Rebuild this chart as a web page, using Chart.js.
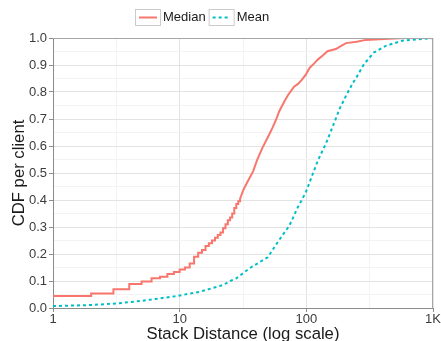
<!DOCTYPE html>
<html lang="en">
<head>
<meta charset="UTF-8">
<title>CDF per client</title>
<script src="https://cdn.jsdelivr.net/npm/chart.js@4.4.1/dist/chart.umd.min.js"></script>
<style>
  html, body { margin: 0; padding: 0; background: #fff; }
  #chart { display: block; }
</style>
</head>
<body>
<canvas id="chart" width="441" height="341"></canvas>
<script>
// values, x = stack distance, y = cumulative fraction
// the low end of the median is a visible staircase, so each riser is listed twice
const medianX = [1, 2, 2, 3, 3, 4, 4, 5, 5, 6, 6, 7, 7, 8, 8, 9, 9, 10, 10,
  11, 11, 12, 12, 13, 13, 14, 14, 15, 15, 16, 16, 17, 17, 18, 18, 19, 19, 20, 20,
  21, 21, 22, 22, 23, 23, 24, 24, 25, 25, 26, 26, 27, 27, 28, 28, 29, 29, 30, 30,
  32, 35, 38, 41, 45, 50, 54, 58, 61, 67, 72, 76, 80, 86, 92, 99, 106, 115, 123,
  134, 147, 171, 190, 206, 250, 295, 447, 610, 1000];
const medianY = [0.044, 0.044, 0.054, 0.054, 0.069, 0.069, 0.089, 0.089, 0.098,
  0.098, 0.110, 0.110, 0.116, 0.116, 0.126, 0.126, 0.133, 0.133, 0.143,
  0.143, 0.150, 0.150, 0.165, 0.165, 0.190, 0.190, 0.205, 0.205, 0.215,
  0.215, 0.230, 0.230, 0.240, 0.240, 0.250, 0.250, 0.260, 0.260, 0.270,
  0.270, 0.280, 0.280, 0.295, 0.295, 0.310, 0.310, 0.325, 0.325, 0.335,
  0.335, 0.350, 0.350, 0.370, 0.370, 0.385, 0.385, 0.395, 0.395, 0.405,
  0.440, 0.475, 0.506, 0.550, 0.593, 0.635, 0.667, 0.700, 0.728, 0.765,
  0.790, 0.805, 0.820, 0.830, 0.845, 0.864, 0.889, 0.905, 0.920, 0.934,
  0.951, 0.959, 0.972, 0.981, 0.986, 0.993, 0.997, 1.000, 1.000];

const meanX = [1, 2, 3.2, 5.1, 9.4, 14.4, 22, 25, 28, 35.6, 49.6, 61, 73.5, 85, 99, 110,
  123, 143, 161, 182, 206, 232, 250, 286, 343, 424, 573, 824, 1000];
const meanY = [0.007, 0.011, 0.017, 0.027, 0.044, 0.060, 0.085, 0.100, 0.110, 0.147,
  0.188, 0.252, 0.305, 0.370, 0.428, 0.485, 0.545, 0.610, 0.670, 0.735,
  0.787, 0.832, 0.856, 0.904, 0.947, 0.971, 0.990, 0.996, 1.000];

const seriesNames = ['Median', 'Mean'];
const xTicks = [1, 10, 100, 1000];
const xTickLabels = ['1', '10', '100', '1K'];

const RED = '#F8766D';
const CYAN = '#00BFC4';
const FONT = "'Liberation Sans', Arial, sans-serif";

function toPoints(xs, ys) {
  return xs.map((x, i) => ({ x: x, y: ys[i] }));
}

// minor breaks sit halfway (in log space) between the majors
const xBreaks = [];
xTicks.forEach((t, i) => {
  xBreaks.push(t);
  if (i < xTicks.length - 1) xBreaks.push(Math.sqrt(t * xTicks[i + 1]));
});
const isMajorX = v => xTicks.some(t => Math.abs(t - v) < 1e-6 * t);
const isMajorY = v => Math.abs(v * 10 - Math.round(v * 10)) < 1e-6;

// grey panel border on top and right
const frame = {
  id: 'frame',
  afterDraw(chart) {
    const { ctx, chartArea: a } = chart;
    ctx.save();
    ctx.strokeStyle = '#a6a6a6';
    ctx.lineWidth = 1;
    ctx.beginPath();
    ctx.moveTo(a.left, a.top + 0.5);
    ctx.lineTo(a.right - 0.5, a.top + 0.5);
    ctx.lineTo(a.right - 0.5, a.bottom);
    ctx.stroke();
    ctx.restore();
  }
};

// ggplot style legend: boxed keys, text after each
const keyLegend = {
  id: 'keyLegend',
  afterDraw(chart) {
    const ctx = chart.ctx;
    ctx.save();
    ctx.font = '13px ' + FONT;
    ctx.textBaseline = 'middle';
    let x = 135;
    const top = 9.5, h = 16, w = 25, cy = 17.5;
    chart.data.datasets.forEach(ds => {
      ctx.setLineDash([]);
      ctx.strokeStyle = '#cccccc';
      ctx.lineWidth = 1;
      ctx.strokeRect(x + 0.5, top, w, h);
      ctx.strokeStyle = ds.borderColor;
      ctx.lineWidth = 2;
      ctx.setLineDash(ds.borderDash || []);
      ctx.beginPath();
      ctx.moveTo(x + 4, cy);
      ctx.lineTo(x + 22, cy);
      ctx.stroke();
      ctx.fillStyle = '#1a1a1a';
      ctx.fillText(ds.label, x + w + 3, cy);
      x += w + 3 + ctx.measureText(ds.label).width + 3;
    });
    ctx.restore();
  }
};

const ctx = document.getElementById('chart').getContext('2d');
new Chart(ctx, {
  type: 'line',
  data: {
    datasets: [{
      label: seriesNames[0],
      data: toPoints(medianX, medianY),
      borderColor: RED,
      borderWidth: 2,
      pointRadius: 0,
      tension: 0,
      fill: false,
      order: 1
    }, {
      label: seriesNames[1],
      data: toPoints(meanX, meanY),
      borderColor: CYAN,
      borderWidth: 2,
      borderDash: [3, 3],
      pointRadius: 0,
      tension: 0,
      fill: false,
      order: 0
    }]
  },
  options: {
    responsive: false,
    animation: false,
    devicePixelRatio: 1,
    layout: { padding: { top: 38, right: 8, bottom: 0, left: 0 } },
    plugins: {
      legend: { display: false },
      tooltip: { enabled: false }
    },
    scales: {
      x: {
        type: 'logarithmic',
        min: 1,
        max: 1000,
        afterBuildTicks: scale => {
          scale.ticks = xBreaks.map(v => ({ value: v }));
        },
        afterFit: scale => {
          scale.height = 33;
          scale.paddingLeft = 0;
          scale.paddingRight = 0;
        },
        ticks: {
          autoSkip: false,
          maxRotation: 0,
          padding: 0,
          color: '#3c3c3c',
          font: { family: FONT, size: 13 },
          callback: v => {
            const i = xTicks.findIndex(t => Math.abs(t - v) < 1e-6 * t);
            return i >= 0 ? xTickLabels[i] : '';
          }
        },
        grid: {
          color: c => isMajorX(c.tick.value) ? '#e3e3e3' : '#f3f3f3',
          tickColor: c => isMajorX(c.tick.value) ? '#8c8c8c' : 'rgba(0,0,0,0)',
          tickLength: 4,
          lineWidth: 1
        },
        border: { display: true, color: '#8c8c8c', width: 1 },
        title: {
          display: true,
          text: 'Stack Distance (log scale)',
          color: '#1a1a1a',
          font: { family: FONT, size: 16.7, lineHeight: 1 },
          padding: { top: 0, bottom: -1.5 }
        }
      },
      y: {
        min: 0,
        max: 1,
        afterFit: scale => { scale.width = 53; },
        ticks: {
          stepSize: 0.05,
          autoSkip: false,
          padding: 2,
          color: '#3c3c3c',
          font: { family: FONT, size: 13 },
          callback: v => isMajorY(v) ? v.toFixed(1) : ''
        },
        grid: {
          color: c => isMajorY(c.tick.value) ? '#e3e3e3' : '#f3f3f3',
          tickColor: c => isMajorY(c.tick.value) ? '#8c8c8c' : 'rgba(0,0,0,0)',
          tickLength: 4,
          lineWidth: 1
        },
        border: { display: true, color: '#8c8c8c', width: 1 },
        title: {
          display: true,
          text: 'CDF per client',
          color: '#1a1a1a',
          font: { family: FONT, size: 16.7, lineHeight: 1 },
          padding: { top: 11.5, bottom: 0 }
        }
      }
    }
  },
  plugins: [frame, keyLegend]
});
</script>
</body>
</html>
